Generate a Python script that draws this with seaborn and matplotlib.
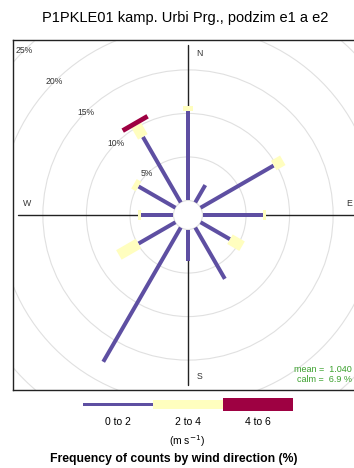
import numpy as np
import matplotlib
matplotlib.use("Agg")
import matplotlib.pyplot as plt
from matplotlib.patches import Polygon, Circle, Rectangle
import seaborn as sns

# Wind directions (degrees, clockwise from north) and frequency (%) per speed bin
directions = [0, 30, 60, 90, 120, 150, 180, 210, 240, 270, 300, 330]
freq_0_2 = [10.3, 2.3, 9.7, 6.9, 3.9, 6.8, 3.6, 17.8, 4.9, 3.7, 4.9, 8.7]
freq_2_4 = [0.5, 0.0, 1.2, 0.4, 1.6, 0.0, 0.0, 0.0, 2.6, 0.4, 0.6, 1.5]
freq_4_6 = [0.0, 0.0, 0.0, 0.0, 0.0, 0.0, 0.0, 0.0, 0.0, 0.0, 0.0, 0.55]
bin_labels = ["0 to 2", "2 to 4", "4 to 6"]
ring_levels = [5, 10, 15, 20, 25]
mean_speed = "1.040"
calm_pct = "6.9"
title = "P1PKLE01 kamp. Urbi Prg., podzim e1 a e2"

sns.set_theme(style="white")
plt.rcParams["font.family"] = ["Liberation Sans", "DejaVu Sans"]

colors = sns.blend_palette(["#5E4FA2", "#FFFFBF", "#9E0142"], 3)
half_widths = [0.23, 0.63, 1.65]   # paddle half-width per speed bin
offset = 1.667                      # radius of calm circle

W, H = 354, 468
fig = plt.figure(figsize=(W / 100, H / 100), dpi=100)
fig.patch.set_facecolor("white")
ax = fig.add_axes([13 / W, 78 / H, 350 / W, 350 / H])
lim = 20.1
ax.set_xlim(-lim, lim)
ax.set_ylim(-lim, lim)
ax.set_xticks([])
ax.set_yticks([])
for s in ax.spines.values():
    s.set_color("#222222")
    s.set_linewidth(1.0)

# grid rings
for lv in ring_levels:
    ax.add_patch(Circle((0, 0), lv + offset, fill=False, ec="#e0e0e0", lw=0.8, zorder=1))

# axis cross
L = 19.5
ax.plot([-L, L], [0, 0], color="#222222", lw=1.0, zorder=2)
ax.plot([0, 0], [-L, L], color="#222222", lw=1.0, zorder=2)

# calm circle
ax.add_patch(Circle((0, 0), offset, fc="white", ec="#e0e0e0", lw=0.8, zorder=3))

# paddles
bins = [freq_0_2, freq_2_4, freq_4_6]
for k, wd in enumerate(directions):
    th = np.deg2rad(wd)
    u = np.array([np.sin(th), np.cos(th)])
    v = np.array([np.cos(th), -np.sin(th)])
    r0 = offset
    for b in range(3):
        val = bins[b][k]
        if val <= 0:
            continue
        r1 = r0 + val
        w = half_widths[b]
        pts = [r0 * u - w * v, r1 * u - w * v, r1 * u + w * v, r0 * u + w * v]
        ax.add_patch(Polygon(pts, closed=True, fc=colors[b], ec="none", zorder=4 + b))
        r0 = r1

# ring labels along the NW diagonal
for lv in ring_levels:
    r = lv + offset
    ax.text(-r * np.sqrt(0.5), r * np.sqrt(0.5), f"{lv}%", ha="center", va="center",
            fontsize=6.2, color="#333333", zorder=8)

# compass labels
R = 18.5
d = 1.35
ax.text(d, R, "N", ha="center", va="center", fontsize=6.3, color="#333333")
ax.text(R, d, "E", ha="center", va="center", fontsize=6.3, color="#333333")
ax.text(d, -R, "S", ha="center", va="center", fontsize=6.3, color="#333333")
ax.text(-R, d, "W", ha="center", va="center", fontsize=6.3, color="#333333")

# summary statistics
fig.text(352 / W, 1 - 369 / H, f"mean =  {mean_speed}", ha="right", va="center",
         fontsize=6.5, color="#3aa02c")
fig.text(352 / W, 1 - 380 / H, f"calm =  {calm_pct} %", ha="right", va="center",
         fontsize=6.5, color="#3aa02c")

# title
fig.text(185 / W, 1 - 18 / H, title, ha="center", va="center", fontsize=10.5, color="black")

# colour key
kax = fig.add_axes([83 / W, 1 - 412 / H, 210 / W, 16 / H])
kax.set_xlim(0, 3)
kax.set_ylim(-8, 8)
kax.axis("off")
thick = [3.0, 9.0, 13.0]
for b in range(3):
    kax.add_patch(Rectangle((b, -thick[b] / 2), 1, thick[b], fc=colors[b], ec="none"))
    fig.text((118 + 70 * b) / W, 1 - 422 / H, bin_labels[b], ha="center", va="center",
             fontsize=7.5, color="black")
fig.text(187 / W, 1 - 441 / H, r"(m s$^{-1}$)", ha="center", va="center",
         fontsize=7.5, color="black")
fig.text(174 / W, 1 - 459 / H, "Frequency of counts by wind direction (%)", ha="center",
         va="center", fontsize=8.8, fontweight="bold", color="black")

fig.savefig("out.png", dpi=100, facecolor="white")
